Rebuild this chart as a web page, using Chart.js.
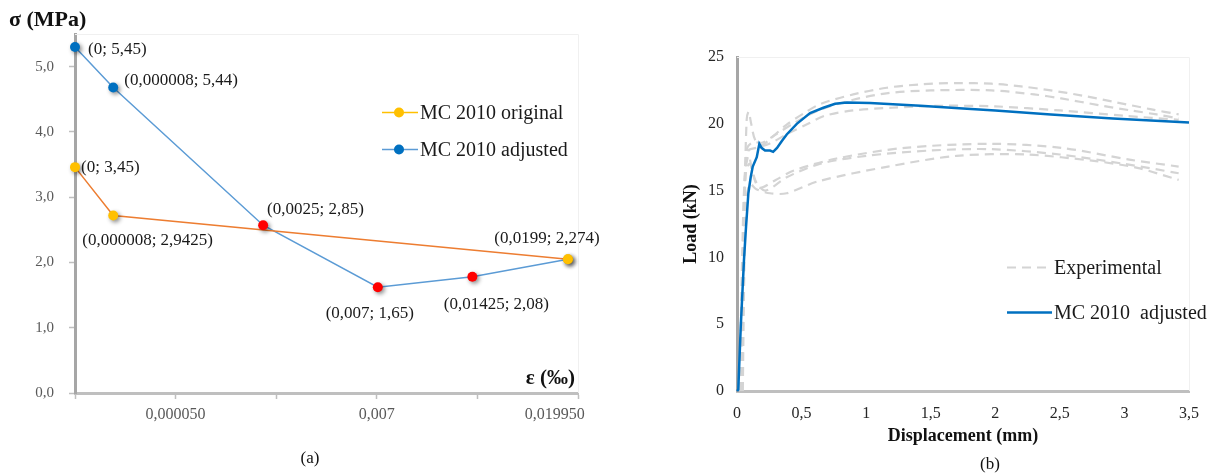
<!DOCTYPE html>
<html>
<head>
<meta charset="utf-8">
<script src="https://cdn.jsdelivr.net/npm/chart.js@4.4.1/dist/chart.umd.min.js"></script>
<style>
html,body{margin:0;padding:0;background:#fff;}
body{width:1220px;height:475px;position:relative;overflow:hidden;font-family:"Liberation Serif","Times New Roman",serif;}
.wrap{position:absolute;top:0;}
.txt{position:absolute;white-space:pre;line-height:1;color:#111;transform:translateY(-50%);}
.b{font-weight:bold;}
.leg{position:absolute;display:flex;align-items:center;white-space:pre;font-size:20px;color:#1a1a1a;transform:translateY(-50%);}
.leg svg{display:block;margin-right:2px;}
</style>
</head>
<body>
<div class="wrap" style="left:0;width:620px;height:475px;"><canvas id="chartA" width="620" height="475"></canvas></div>
<div class="wrap" style="left:620px;width:600px;height:475px;"><canvas id="chartB" width="600" height="475"></canvas></div>

<div class="txt b" style="left:9px;top:19px;font-size:22px;">σ (MPa)</div>
<div class="txt b" style="right:645px;top:377px;font-size:21px;">ε (‰)</div>
<div class="txt" style="left:310px;top:457px;font-size:17px;transform:translate(-50%,-50%);">(a)</div>
<div class="txt" style="left:990px;top:463px;font-size:17px;transform:translate(-50%,-50%);">(b)</div>

<div class="leg" style="left:382px;top:112px;"><svg width="36" height="12"><line x1="0" y1="6" x2="36" y2="6" stroke="#FFC000" stroke-width="1.6"/><circle cx="17" cy="6" r="5" fill="#FFC000"/></svg>MC 2010 original</div>
<div class="leg" style="left:382px;top:149px;"><svg width="36" height="12"><line x1="0" y1="6" x2="36" y2="6" stroke="#5B9BD5" stroke-width="1.6"/><circle cx="17" cy="6" r="5" fill="#0070C0"/></svg>MC 2010 adjusted</div>

<div class="leg" style="left:1007px;top:267px;"><svg width="45" height="6"><line x1="0" y1="3" x2="45" y2="3" stroke="#D4D4D4" stroke-width="2.2" stroke-dasharray="9,6"/></svg>Experimental</div>
<div class="leg" style="left:1007px;top:312px;"><svg width="45" height="6"><line x1="0" y1="3" x2="45" y2="3" stroke="#0070C0" stroke-width="2.5"/></svg>MC 2010  adjusted</div>

<script>
// ---------- Panel (a) data ----------
// horizontal slot of each point (the original axis is not proportional to strain)
const slotAdjusted   = [0, 0.38, 1.87, 3.01, 3.95, 4.90];
const stressAdjusted = [5.30, 4.68, 2.57, 1.62, 1.78, 2.05];
const labelsAdjusted = ['(0; 5,45)', '(0,000008; 5,44)', '(0,0025; 2,85)', '(0,007; 1,65)', '(0,01425; 2,08)', ''];

const slotOriginal   = [0, 0.38, 4.90];
const stressOriginal = [3.46, 2.72, 2.05];
const labelsOriginal = ['(0; 3,45)', '(0,000008; 2,9425)', '(0,0199; 2,274)'];

const yTicksA       = [0, 1, 2, 3, 4, 5];
const xTickSlotsA   = [0, 1, 2, 3, 4, 5];
const xLabelSlotsA  = [1, 3, 4.77];
const xTickLabelsA  = ['0,000050', '0,007', '0,019950'];

// ---------- Panel (b) data (displacement mm, load kN) ----------
const mcAdjusted = [[0,0],[0.01,0.1],[0.029,4.8],[0.054,9.8],[0.07,12.3],[0.088,14.8],[0.106,16.0],[0.122,16.8],[0.153,17.5],[0.173,18.5],[0.19,18.2],[0.217,18.0],[0.256,18.0],[0.28,17.9],[0.31,18.2],[0.346,18.7],[0.385,19.2],[0.463,20.0],[0.566,20.8],[0.669,21.2],[0.76,21.5],[0.85,21.6],[1.03,21.55],[1.42,21.35],[1.75,21.15],[2.0,21.0],[2.43,20.7],[2.91,20.4],[3.5,20.1]];

const exp1 = [[0.04,0],[0.05,8],[0.06,15],[0.075,20.3],[0.09,20.9],[0.11,20.0],[0.14,18.8],[0.19,18.4],[0.26,18.9],[0.38,19.9],[0.52,20.8],[0.65,21.5],[0.9,22.2],[1.16,22.7],[1.42,22.95],[1.7,23.05],[1.97,23.0],[2.2,22.8],[2.43,22.5],[2.68,22.1],[2.94,21.6],[3.2,21.1],[3.42,20.7]];
const exp2 = [[0.03,0],[0.045,10],[0.06,16],[0.08,18.2],[0.12,18.6],[0.2,18.6],[0.3,19.2],[0.45,20.1],[0.63,21.0],[0.9,21.8],[1.17,22.3],[1.5,22.5],[1.97,22.5],[2.3,22.2],[2.51,21.9],[2.8,21.4],[3.05,21.0],[3.25,20.7],[3.42,20.4]];
const exp3 = [[0.035,0],[0.05,10],[0.065,16.5],[0.09,18.0],[0.15,18.2],[0.25,18.5],[0.4,19.3],[0.55,20.0],[0.68,20.6],[0.9,21.0],[1.2,21.2],[1.6,21.35],[2.0,21.3],[2.5,21.0],[3.0,20.6],[3.42,20.3]];
const exp4 = [[0.02,0],[0.04,10],[0.06,16],[0.09,17.6],[0.13,16.0],[0.175,15.2],[0.3,15.8],[0.44,16.5],[0.77,17.4],[1.3,18.2],[1.97,18.5],[2.51,18.2],[3.05,17.3],[3.42,16.8]];
const exp5 = [[0.03,0],[0.05,11],[0.07,16.5],[0.1,17.0],[0.15,15.6],[0.22,15.0],[0.385,16.0],[0.64,17.0],[1.0,17.6],[1.5,18.0],[1.97,18.1],[2.5,17.7],[3.0,17.0],[3.42,16.3]];
const exp6 = [[0.045,0],[0.055,8],[0.07,14],[0.1,15.5],[0.15,15.1],[0.256,14.8],[0.385,14.8],[0.63,15.7],[1.17,16.8],[1.7,17.6],[2.24,17.7],[2.78,17.2],[3.1,16.7],[3.42,15.8]];
const experimental = [exp1, exp2, exp3, exp4, exp5, exp6];

const yTicksB = [0, 5, 10, 15, 20, 25];
const xTicksB = [0, 0.5, 1, 1.5, 2, 2.5, 3, 3.5];

// ---------- styles ----------
const SERIF = '"Liberation Serif", "Times New Roman", serif';
Chart.defaults.font.family = SERIF;
const BLUE_LINE = '#5B9BD5', BLUE_PT = '#0070C0', ORANGE = '#ED7D31', YELLOW = '#FFC000', RED = '#FF0000';
const adjustedPointColors = [BLUE_PT, BLUE_PT, RED, RED, RED, YELLOW];
const labelOffsetsAdjusted = [
  {dx:13, dy:2, align:'left'}, {dx:11, dy:-7, align:'left'}, {dx:4, dy:-16, align:'left'},
  {dx:-8, dy:26, align:'center'}, {dx:24, dy:28, align:'center'}, null];
const labelOffsetsOriginal = [
  {dx:6, dy:0, align:'left'}, {dx:-31, dy:25, align:'left'}, {dx:-21, dy:-21, align:'center'}];

const toXY = (xs, ys) => xs.map((x, i) => ({x: x, y: ys[i]}));
const toPts = arr => arr.map(p => ({x: p[0], y: p[1]}));

const shadowPlugin = {
  id: 'pointShadow',
  beforeDatasetDraw(chart, args) {
    const ds = chart.data.datasets[args.index];
    if (!ds.shadow) return;
    const ctx = chart.ctx;
    ctx.save();
    ctx.shadowColor = 'rgba(0,0,0,0.45)';
    ctx.shadowBlur = 4;
    ctx.shadowOffsetX = 2;
    ctx.shadowOffsetY = 2;
  },
  afterDatasetDraw(chart, args) {
    const ds = chart.data.datasets[args.index];
    if (!ds.shadow) return;
    chart.ctx.restore();
  }
};

const labelPlugin = {
  id: 'pointLabels',
  afterDatasetsDraw(chart) {
    const ctx = chart.ctx;
    chart.data.datasets.forEach((ds, i) => {
      if (!ds.pointLabels) return;
      const meta = chart.getDatasetMeta(i);
      meta.data.forEach((pt, j) => {
        const txt = ds.pointLabels[j];
        const o = ds.labelOffsets[j];
        if (!txt || !o) return;
        ctx.save();
        ctx.font = '17px ' + SERIF;
        ctx.fillStyle = '#1a1a1a';
        ctx.textAlign = o.align;
        ctx.textBaseline = 'middle';
        ctx.fillText(txt, pt.x + o.dx, pt.y + o.dy);
        ctx.restore();
      });
    });
  }
};

const framePlugin = {
  id: 'frame',
  beforeDatasetsDraw(chart) {
    const {ctx, chartArea: a} = chart;
    ctx.save();
    ctx.strokeStyle = '#F0F0F0';
    ctx.lineWidth = 1;
    ctx.beginPath();
    ctx.moveTo(a.left, a.top + 0.5);
    ctx.lineTo(a.right + 0.5, a.top + 0.5);
    ctx.lineTo(a.right + 0.5, a.bottom);
    ctx.stroke();
    ctx.restore();
  }
};

// ---------- Chart (a) ----------
new Chart(document.getElementById('chartA'), {
  type: 'line',
  data: {
    datasets: [
      {data: toXY(slotAdjusted, stressAdjusted), borderColor: BLUE_LINE, borderWidth: 1.5, pointRadius: 0, tension: 0, order: 4, clip: false},
      {data: toXY(slotOriginal, stressOriginal), borderColor: ORANGE, borderWidth: 1.5, pointRadius: 0, tension: 0, order: 3, clip: false},
      {data: toXY(slotAdjusted, stressAdjusted), showLine: false, pointRadius: 5, pointBorderWidth: 0,
       pointBackgroundColor: adjustedPointColors, pointBorderColor: adjustedPointColors, order: 2, clip: false,
       shadow: true, pointLabels: labelsAdjusted, labelOffsets: labelOffsetsAdjusted},
      {data: toXY(slotOriginal, stressOriginal), showLine: false, pointRadius: 5, pointBorderWidth: 0,
       pointBackgroundColor: YELLOW, pointBorderColor: YELLOW, order: 1, clip: false,
       shadow: true, pointLabels: labelsOriginal, labelOffsets: labelOffsetsOriginal}
    ]
  },
  options: {
    responsive: false, animation: false, devicePixelRatio: 1,
    layout: {padding: {left: 0, right: 42, top: 34, bottom: 0}},
    plugins: {legend: {display: false}, tooltip: {enabled: false}},
    scales: {
      x: {
        type: 'linear', min: 0, max: 5,
        afterBuildTicks: s => {
          const vals = Array.from(new Set(xTickSlotsA.concat(xLabelSlotsA))).sort((a, b) => a - b);
          s.ticks = vals.map(v => ({value: v}));
        },
        afterFit: s => { s.height = 82; },
        grid: {display: true, drawOnChartArea: false, drawTicks: true, tickLength: 6,
               tickColor: c => (c.tick && xTickSlotsA.includes(c.tick.value)) ? '#BFBFBF' : 'rgba(0,0,0,0)', tickWidth: 1.5},
        border: {display: true, color: '#BFBFBF', width: 3},
        ticks: {autoSkip: false, maxRotation: 0, padding: 6, color: '#595959', font: {size: 16, family: SERIF},
                callback: v => { const k = xLabelSlotsA.indexOf(v); return k >= 0 ? xTickLabelsA[k] : ''; }}
      },
      y: {
        min: 0, max: 5.5,
        afterBuildTicks: s => { s.ticks = yTicksA.map(v => ({value: v})); },
        afterFit: s => { s.width = 75; },
        grid: {display: true, drawOnChartArea: false, drawTicks: true, tickLength: 6, tickColor: '#BFBFBF', tickWidth: 1.5},
        border: {display: true, color: '#A6A6A6', width: 3},
        ticks: {padding: 15, color: '#595959', font: {size: 15, family: SERIF},
                callback: v => v.toFixed(1).replace('.', ',')}
      }
    }
  },
  plugins: [framePlugin, shadowPlugin, labelPlugin]
});

// ---------- Chart (b) ----------
const expDatasets = experimental.map(curve => ({
  data: toPts(curve), borderColor: '#D4D4D4', borderWidth: 2.2, borderDash: [9, 6],
  pointRadius: 0, tension: 0.3, order: 2, clip: false
}));

new Chart(document.getElementById('chartB'), {
  type: 'line',
  data: {
    datasets: expDatasets.concat([
      {data: toPts(mcAdjusted), borderColor: BLUE_PT, borderWidth: 2.5, pointRadius: 0, tension: 0, order: 1, clip: false}
    ])
  },
  options: {
    responsive: false, animation: false, devicePixelRatio: 1,
    layout: {padding: {left: 57, right: 31, top: 57, bottom: 25}},
    plugins: {legend: {display: false}, tooltip: {enabled: false}},
    scales: {
      x: {
        type: 'linear', min: 0, max: 3.5,
        afterBuildTicks: s => { s.ticks = xTicksB.map(v => ({value: v})); },
        afterFit: s => { s.height = 59; },
        grid: {display: true, drawOnChartArea: false, drawTicks: false},
        border: {display: true, color: '#BFBFBF', width: 3},
        ticks: {autoSkip: false, maxRotation: 0, padding: 13, color: '#262626', font: {size: 16, family: SERIF},
                callback: v => String(v).replace('.', ',')},
        title: {display: true, text: 'Displacement (mm)', color: '#111', padding: {top: 0, bottom: 3},
                font: {size: 18, weight: 'bold', family: SERIF}}
      },
      y: {
        min: 0, max: 25,
        afterBuildTicks: s => { s.ticks = yTicksB.map(v => ({value: v})); },
        afterFit: s => { s.width = 60; },
        grid: {display: true, drawOnChartArea: false, drawTicks: false},
        border: {display: true, color: '#A6A6A6', width: 3},
        ticks: {padding: 13, color: '#262626', font: {size: 16, family: SERIF}},
        title: {display: true, text: 'Load (kN)', color: '#111', padding: {top: 4, bottom: 0},
                font: {size: 18, weight: 'bold', family: SERIF}}
      }
    }
  },
  plugins: [framePlugin]
});
</script>
</body>
</html>
